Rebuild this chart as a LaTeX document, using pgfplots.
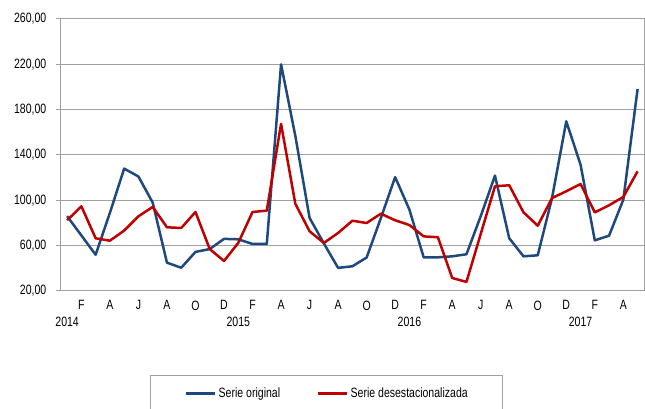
\documentclass[border=0pt]{standalone}
\usepackage{fontspec}
\setmainfont{Liberation Sans}[FakeStretch=0.78]
\usepackage{pgfplots}
\pgfplotsset{compat=1.18}
\usepackage{pgfplotstable}
\definecolor{serieblue}{RGB}{31,73,125}
\definecolor{seriered}{RGB}{192,0,0}
\definecolor{gridgray}{RGB}{160,160,160}

\pgfplotstableread{
i orig desest
0 86 82.4
1 69 94.7
2 52 66.5
3 89 64.4
4 128 73.3
5 121 85.9
6 98 94.2
7 45 76.2
8 40.5 75.6
9 54.5 89.7
10 57 57
11 66 46.5
12 65.6 62.4
13 61.5 89.7
14 61.5 90.9
15 220 167.5
16 157 97
17 84.5 72.7
18 62 62.4
19 40.4 71.2
20 41.8 82
21 49.5 80
22 84.4 88.2
23 120.5 82.4
24 91.8 78.2
25 49.7 68.2
26 49.7 67.4
27 50.6 31.5
28 52.4 28
29 86 70.3
30 121.8 112.4
31 66.5 113.3
32 50.6 89.4
33 51.5 77.6
34 102 102
35 169.7 108
36 131.5 114.4
37 64.7 89.4
38 68.8 95.6
39 100.6 103
40 198.2 125.6
}\datatable

\begin{document}
\fontsize{13.5}{16}\selectfont
\begin{tikzpicture}
\begin{axis}[
  at={(60pt,118pt)}, anchor=south west,
  scale only axis, width=584pt, height=272pt,
  xmin=-0.5, xmax=40.45, ymin=20, ymax=260,
  ytick={20,60,...,260},
  yticklabels={{20,00},{60,00},{100,00},{140,00},{180,00},{220,00},{260,00}},
  ymajorgrids,
  grid style={gridgray, line width=1pt},
  axis line style={gridgray, line width=1pt},
  tick align=outside, major tick length=4pt,
  ytick style={draw=gridgray, line width=1pt},
  xtick style={draw=none},
  xtick={1,3,...,39},
  xticklabels={F,A,J,A,O,D,F,A,J,A,O,D,F,A,J,A,O,D,F,A},
  x tick label style={yshift=-1pt},
  extra x ticks={0,12,24,36},
  extra x tick labels={2014,2015,2016,2017},
  extra x tick style={xticklabel style={yshift=-16pt}, major tick length=4pt},
  y tick label style={xshift=-5pt},
  legend columns=2,
  legend image code/.code={\draw[#1] (0pt,0pt) -- (29pt,0pt);},
  legend style={at={(0.4563,-0.3088)}, anchor=north, draw=gridgray, line width=1pt,
    inner xsep=35pt, inner ysep=12pt, nodes={inner sep=0pt, anchor=west},
    /tikz/every odd column/.append style={column sep=2pt},
    /tikz/every even column/.append style={column sep=37pt}},
]
\addplot[serieblue, line width=2.5pt, line join=round] table[x=i, y=orig] {\datatable};
\addlegendentry{Serie original}
\addplot[seriered, line width=2.5pt, line join=round] table[x=i, y=desest] {\datatable};
\addlegendentry{Serie desestacionalizada}
\end{axis}
\pgfresetboundingbox
\path[use as bounding box] (0,0) rectangle (645pt,409pt);
\end{tikzpicture}
\end{document}
